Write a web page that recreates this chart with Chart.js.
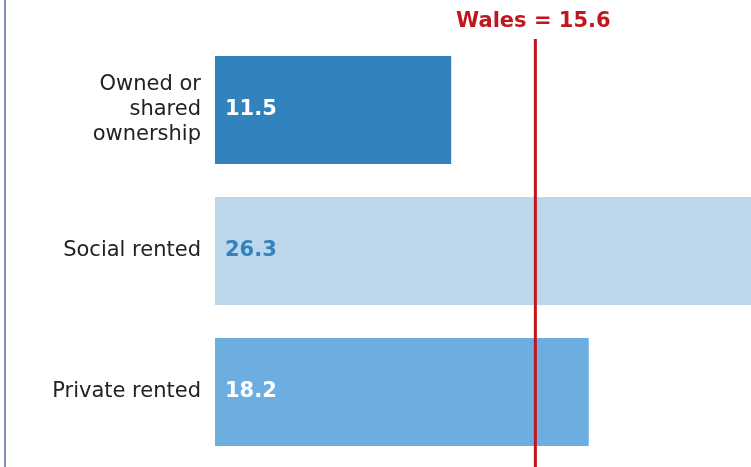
<!DOCTYPE html>
<html>
<head>
<meta charset="utf-8">
<script src="https://cdn.jsdelivr.net/npm/chart.js@4/dist/chart.umd.min.js"></script>
<style>
  html, body { margin: 0; padding: 0; background: #fff; }
</style>
</head>
<body>
<canvas id="chart" width="751" height="467"></canvas>
<script>
// data
var categories = [['Owned or', 'shared', 'ownership'], 'Social rented', 'Private rented'];
var values = [11.5, 26.3, 18.2];
var barColours = ['#3282bd', '#bcd7e9', '#6daee0'];
var valueColours = ['#ffffff', '#3282bd', '#ffffff'];
var walesValue = 15.6;
var walesLabel = 'Wales = 15.6';

var FONT = '"DejaVu Sans", Verdana, sans-serif';

// value text inside each bar + wales line + left border
var extras = {
  id: 'extras',
  afterDatasetsDraw: function (chart) {
    var ctx = chart.ctx;
    var meta = chart.getDatasetMeta(0);
    ctx.save();
    ctx.font = 'bold 21px ' + FONT;
    ctx.textAlign = 'left';
    ctx.textBaseline = 'middle';
    meta.data.forEach(function (bar, i) {
      ctx.fillStyle = valueColours[i];
      ctx.fillText(values[i].toFixed(1), bar.base + 10, bar.y);
    });

    var x = chart.scales.x.getPixelForValue(walesValue);
    ctx.strokeStyle = '#c0161e';
    ctx.lineWidth = 3;
    ctx.beginPath();
    ctx.moveTo(x, 39);
    ctx.lineTo(x, chart.height);
    ctx.stroke();

    ctx.fillStyle = '#c0161e';
    ctx.textAlign = 'center';
    ctx.fillText(walesLabel, x - 2, 22);

    ctx.strokeStyle = '#5a6d96';
    ctx.lineWidth = 1.5;
    ctx.beginPath();
    ctx.moveTo(5, 0);
    ctx.lineTo(5, chart.height);
    ctx.stroke();
    ctx.restore();
  }
};

new Chart(document.getElementById('chart'), {
  type: 'bar',
  data: {
    labels: categories,
    datasets: [{
      data: values,
      backgroundColor: barColours,
      borderWidth: 0,
      barPercentage: 0.766,
      categoryPercentage: 1
    }]
  },
  options: {
    indexAxis: 'y',
    responsive: false,
    animation: false,
    layout: { padding: { top: 39.5, bottom: 4.5, left: 0, right: 0 } },
    plugins: { legend: { display: false }, tooltip: { enabled: false } },
    scales: {
      x: {
        display: false,
        min: 0,
        max: 26.1
      },
      y: {
        grid: { display: false, drawTicks: false },
        border: { display: false },
        afterFit: function (scale) {
          scale.width = 215;
          scale.paddingTop = 0;
          scale.paddingBottom = 0;
        },
        ticks: {
          color: '#222222',
          padding: 14,
          font: { family: FONT, size: 21, lineHeight: 1.19 }
        }
      }
    }
  },
  plugins: [extras]
});
</script>
</body>
</html>
